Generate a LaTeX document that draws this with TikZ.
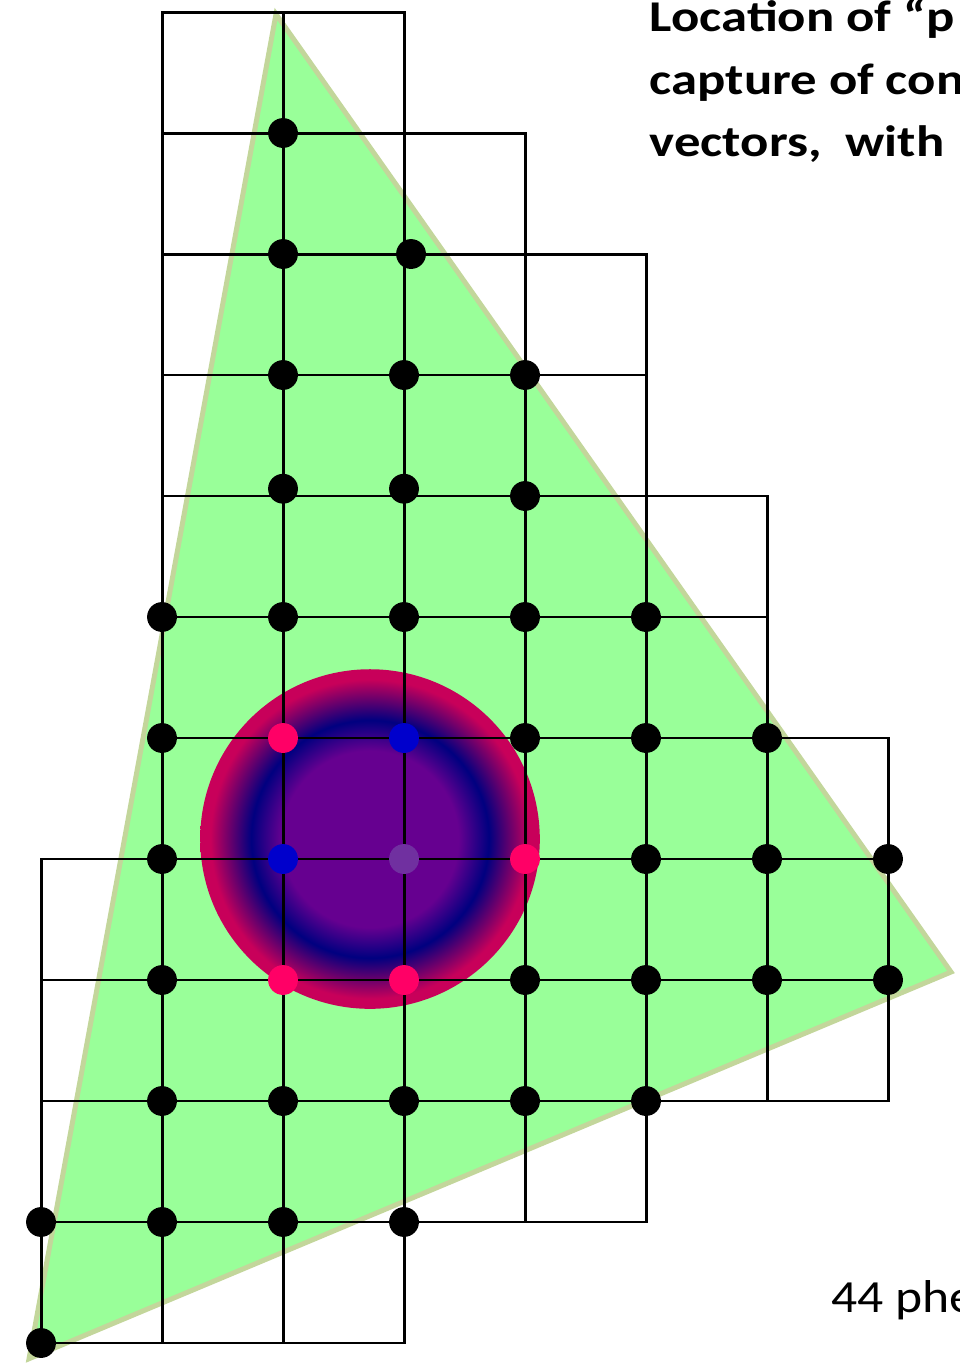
\documentclass[tikz,border=0pt]{standalone}
\usepackage{fontspec}
\setmainfont{Carlito}
\newfontfamily\widefont[FakeStretch=1.2]{Carlito}
\newfontfamily\notefont[FakeStretch=1.12]{Carlito}
\usetikzlibrary{positioning}
\definecolor{cLeaf}{HTML}{99FF99}
\definecolor{cOlive}{HTML}{C3D69B}
\definecolor{cPlum}{HTML}{660090}
\definecolor{cNavy}{HTML}{000080}
\definecolor{cCrimson}{HTML}{C8005A}
\definecolor{cPink}{HTML}{FF0066}
\definecolor{cBlue}{HTML}{0000CC}
\definecolor{cViolet}{HTML}{7030A0}
\pgfdeclareradialshading{blob}{\pgfpoint{0bp}{0bp}}{color(0bp)=(cPlum); color(13bp)=(cPlum);
  color(17.5bp)=(cNavy); color(23.5bp)=(cCrimson); color(25bp)=(cCrimson); color(50bp)=(cCrimson)}

\begin{document}
\begin{tikzpicture}[
  x=3cm, y=-3cm,
  cell/.style={draw=black, line width=2.1pt},
  dot/.style={circle, fill=black, minimum size=0.74cm, inner sep=0pt},
  hot/.style={dot, fill=cPink},
  cold/.style={dot, fill=cBlue},
  core/.style={dot, fill=cViolet},
  title/.style={font=\widefont\bfseries\fontsize{31}{37}\selectfont, anchor=base west, inner sep=0pt},
  note/.style={font=\notefont\fontsize{32.5}{38}\selectfont, anchor=base west, inner sep=0pt},
]
\useasboundingbox (-0.339,-0.0993) rectangle (7.595,11.215);
\clip (-0.339,-0.0993) rectangle (7.595,11.215);
\filldraw[fill=cLeaf, draw=cOlive, line width=3.5pt] (1.942,0.017) -- (7.521,7.934) -- (-0.099,11.13) -- cycle;
\shade[shading=blob] (2.719,6.835) circle (4.21cm);
\foreach \r/\a/\b in {0/1/2, 1/1/3, 2/1/4, 3/1/4, 4/1/5, 5/1/5, 6/1/6, 7/0/6, 8/0/6, 9/0/4, 10/0/2}
  \foreach \c in {\a,...,\b}
    \draw[cell] (\c,\r) rectangle ++(1,1);
\foreach \x/\y [count=\i] in {2/1, 2/2, 3.058/2, 2/3, 3/3, 4/3, 2/3.94, 3/3.94, 4/4,
    1/5, 2/5, 3/5, 4/5, 5/5, 1/6, 4/6, 5/6, 6/6, 1/7, 5/7, 6/7, 7/7,
    1/8, 4/8, 5/8, 6/8, 7/8, 1/9, 2/9, 3/9, 4/9, 5/9, 0/10, 1/10, 2/10, 3/10, 0/11}
  \node[dot] (p\i) at (\x,\y) {};
\node[hot] (h1) at (2,6) {};
\node[hot] (h2) at (4,7) {};
\node[hot] (h3) at (2,8) {};
\node[hot] (h4) at (3,8) {};
\node[cold] (b1) at (3,6) {};
\node[cold] (b2) at (2,7) {};
\node[core] (c1) at (3,7) {};
\node[title] (t1) at (5.03,0.165) {Location of “p};
\node[title] (t2) at (5.03,0.678) {capture of con};
\node[title] (t3) at (5.03,1.19) {vectors,\ \ with};
\node[note] (n1) at (6.53,10.75) {44 phe};
\end{tikzpicture}
\end{document}
